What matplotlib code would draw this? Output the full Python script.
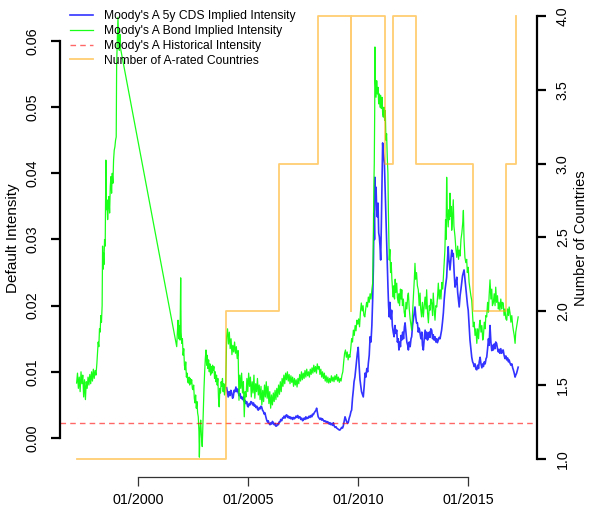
import matplotlib
matplotlib.use("Agg")
import matplotlib.pyplot as plt

plt.rcParams['font.family'] = ['Liberation Sans', 'DejaVu Sans']

# Moody's A bond implied intensity: (decimal year, intensity)
bond_pts = [
    (1997.21, .0083), (1997.25, .0098), (1997.29, .0075), (1997.33, .0092), (1997.37, .0070),
    (1997.41, .0100), (1997.45, .0082), (1997.49, .0095), (1997.53, .0062), (1997.57, .0088),
    (1997.61, .0058), (1997.65, .0085), (1997.69, .0075), (1997.73, .0092), (1997.77, .0080),
    (1997.81, .0096), (1997.85, .0082), (1997.89, .0100), (1997.93, .0086), (1997.97, .0104),
    (1998.01, .0090), (1998.05, .0102), (1998.09, .0095), (1998.13, .0112), (1998.16, .0130),
    (1998.19, .0145), (1998.22, .0138), (1998.25, .0165), (1998.28, .0160), (1998.31, .0185),
    (1998.34, .0175), (1998.37, .0200), (1998.39, .0290), (1998.41, .0255), (1998.43, .0280),
    (1998.45, .0262), (1998.48, .0300), (1998.51, .0290), (1998.54, .0420), (1998.56, .0345),
    (1998.59, .0360), (1998.62, .0330), (1998.65, .0350), (1998.68, .0365), (1998.71, .0340),
    (1998.74, .0380), (1998.77, .0395), (1998.80, .0370), (1998.83, .0400), (1998.86, .0385),
    (1998.89, .0420), (1998.92, .0435), (1998.95, .0440), (1998.98, .0450), (1999.01, .0455),
    (1999.03, .0566), (1999.06, .0600), (1999.09, .0636), (1999.12, .0600), (1999.15, .0586),
    (1999.18, .0610), (1999.20, .0590),
    (2001.76, .0138), (2001.79, .0160), (2001.82, .0178), (2001.85, .0150), (2001.88, .0170),
    (2001.91, .0148), (2001.94, .0242), (2001.96, .0160), (2001.99, .0143), (2002.02, .0150),
    (2002.05, .0125), (2002.08, .0135), (2002.11, .0110), (2002.14, .0103), (2002.17, .0115),
    (2002.20, .0092), (2002.23, .0098), (2002.26, .0085), (2002.29, .0083), (2002.32, .0092),
    (2002.35, .0080), (2002.38, .0090), (2002.41, .0082), (2002.44, .0088), (2002.47, .0075),
    (2002.50, .0073), (2002.53, .0080), (2002.56, .0060), (2002.59, .0053), (2002.62, .0065),
    (2002.65, .0045), (2002.68, .0055), (2002.71, .0038), (2002.74, .0032), (2002.77, .0010),
    (2002.79, -.0029), (2002.82, .0015), (2002.85, .0027), (2002.88, .0005), (2002.92, -.0013),
    (2002.95, .0020), (2002.97, .0042), (2003.00, .0075), (2003.03, .0100), (2003.06, .0120),
    (2003.09, .0133), (2003.12, .0110), (2003.15, .0125), (2003.18, .0105), (2003.21, .0118),
    (2003.24, .0100), (2003.27, .0112), (2003.30, .0095), (2003.33, .0108), (2003.36, .0098),
    (2003.39, .0110), (2003.42, .0102), (2003.45, .0108), (2003.48, .0090), (2003.51, .0100),
    (2003.54, .0085), (2003.57, .0095), (2003.60, .0080), (2003.63, .0090), (2003.66, .0060),
    (2003.69, .0047), (2003.72, .0075), (2003.75, .0068), (2003.78, .0085), (2003.81, .0078),
    (2003.84, .0090), (2003.87, .0070), (2003.90, .0082), (2003.93, .0065), (2003.96, .0075),
    (2003.99, .0085), (2004.03, .0153), (2004.07, .0165), (2004.11, .0142), (2004.15, .0160),
    (2004.19, .0135), (2004.23, .0150), (2004.27, .0126), (2004.31, .0140), (2004.35, .0130),
    (2004.39, .0145), (2004.43, .0128), (2004.47, .0138), (2004.51, .0120), (2004.55, .0132),
    (2004.59, .0057), (2004.63, .0095), (2004.67, .0075), (2004.71, .0098), (2004.75, .0068),
    (2004.79, .0085), (2004.83, .0032), (2004.87, .0070), (2004.91, .0062), (2004.95, .0090),
    (2004.99, .0070), (2005.03, .0098), (2005.07, .0078), (2005.11, .0092), (2005.15, .0062),
    (2005.19, .0085), (2005.23, .0068), (2005.27, .0095), (2005.31, .0060), (2005.35, .0082),
    (2005.39, .0070), (2005.43, .0090), (2005.47, .0065), (2005.51, .0080), (2005.55, .0058),
    (2005.59, .0078), (2005.63, .0050), (2005.67, .0072), (2005.71, .0055), (2005.75, .0080),
    (2005.79, .0062), (2005.83, .0085), (2005.87, .0060), (2005.91, .0078), (2005.95, .0052),
    (2005.99, .0070), (2006.03, .0045), (2006.07, .0065), (2006.11, .0050), (2006.15, .0068),
    (2006.19, .0055), (2006.23, .0072), (2006.27, .0058), (2006.31, .0075), (2006.35, .0062),
    (2006.39, .0080), (2006.43, .0066), (2006.47, .0085), (2006.51, .0070), (2006.55, .0090),
    (2006.59, .0078), (2006.63, .0095), (2006.67, .0082), (2006.71, .0098), (2006.75, .0088),
    (2006.79, .0100), (2006.83, .0086), (2006.87, .0096), (2006.91, .0082), (2006.95, .0094),
    (2006.99, .0084), (2007.03, .0092), (2007.07, .0078), (2007.11, .0090), (2007.15, .0080),
    (2007.19, .0088), (2007.23, .0077), (2007.27, .0090), (2007.31, .0082), (2007.35, .0096),
    (2007.39, .0086), (2007.43, .0100), (2007.47, .0088), (2007.51, .0098), (2007.55, .0090),
    (2007.59, .0102), (2007.63, .0092), (2007.67, .0104), (2007.71, .0094), (2007.75, .0100),
    (2007.79, .0092), (2007.83, .0104), (2007.87, .0096), (2007.91, .0106), (2007.95, .0098),
    (2007.99, .0110), (2008.03, .0100), (2008.07, .0108), (2008.11, .0098), (2008.15, .0112),
    (2008.19, .0104), (2008.23, .0108), (2008.27, .0096), (2008.31, .0104), (2008.35, .0092),
    (2008.39, .0100), (2008.43, .0090), (2008.47, .0098), (2008.51, .0086), (2008.55, .0094),
    (2008.59, .0084), (2008.63, .0092), (2008.67, .0083), (2008.71, .0090), (2008.75, .0084),
    (2008.79, .0094), (2008.83, .0086), (2008.87, .0092), (2008.91, .0085), (2008.95, .0094),
    (2008.99, .0088), (2009.03, .0096), (2009.07, .0086), (2009.11, .0092), (2009.15, .0084),
    (2009.19, .0090), (2009.23, .0086), (2009.27, .0095), (2009.31, .0100), (2009.35, .0115),
    (2009.39, .0128), (2009.43, .0133), (2009.47, .0122), (2009.51, .0130), (2009.55, .0118),
    (2009.59, .0126), (2009.63, .0122), (2009.67, .0135), (2009.71, .0150), (2009.75, .0145),
    (2009.79, .0163), (2009.83, .0155), (2009.87, .0170), (2009.91, .0162), (2009.95, .0178),
    (2009.99, .0172), (2010.03, .0180), (2010.07, .0168), (2010.11, .0190), (2010.15, .0204),
    (2010.19, .0192), (2010.23, .0200), (2010.27, .0185), (2010.31, .0183), (2010.35, .0195),
    (2010.39, .0205), (2010.43, .0198), (2010.47, .0213), (2010.51, .0205), (2010.55, .0218),
    (2010.59, .0210), (2010.63, .0224), (2010.67, .0235), (2010.70, .0314), (2010.72, .0380),
    (2010.74, .0415), (2010.76, .0500), (2010.77, .0591), (2010.79, .0540), (2010.82, .0515),
    (2010.85, .0540), (2010.88, .0520), (2010.91, .0530), (2010.94, .0505), (2010.97, .0520),
    (2011.00, .0500), (2011.03, .0518), (2011.06, .0498), (2011.09, .0515), (2011.12, .0490),
    (2011.15, .0485), (2011.18, .0500), (2011.21, .0480), (2011.24, .0495), (2011.27, .0450),
    (2011.30, .0460), (2011.33, .0424), (2011.36, .0400), (2011.38, .0344), (2011.40, .0310),
    (2011.42, .0269), (2011.45, .0285), (2011.48, .0250), (2011.51, .0265), (2011.54, .0240),
    (2011.57, .0225), (2011.60, .0213), (2011.63, .0230), (2011.66, .0210), (2011.69, .0240),
    (2011.72, .0220), (2011.76, .0234), (2011.79, .0212), (2011.83, .0204), (2011.86, .0218),
    (2011.89, .0200), (2011.93, .0225), (2011.96, .0210), (2011.99, .0224), (2012.02, .0200),
    (2012.06, .0210), (2012.10, .0190), (2012.14, .0183), (2012.18, .0205), (2012.22, .0195),
    (2012.26, .0215), (2012.29, .0219), (2012.33, .0195), (2012.37, .0180), (2012.41, .0170),
    (2012.44, .0163), (2012.48, .0190), (2012.52, .0215), (2012.56, .0240), (2012.59, .0264),
    (2012.62, .0240), (2012.66, .0250), (2012.70, .0230), (2012.74, .0224), (2012.78, .0200),
    (2012.82, .0219), (2012.85, .0195), (2012.89, .0183), (2012.93, .0205), (2012.97, .0183),
    (2013.01, .0200), (2013.05, .0213), (2013.09, .0195), (2013.12, .0224), (2013.16, .0190),
    (2013.20, .0174), (2013.24, .0200), (2013.27, .0193), (2013.31, .0210), (2013.35, .0204),
    (2013.39, .0185), (2013.42, .0219), (2013.46, .0195), (2013.50, .0178), (2013.54, .0200),
    (2013.58, .0198), (2013.62, .0215), (2013.65, .0234), (2013.69, .0210), (2013.73, .0224),
    (2013.77, .0210), (2013.81, .0235), (2013.85, .0225), (2013.88, .0243), (2013.92, .0265),
    (2013.95, .0284), (2013.98, .0330), (2014.00, .0300), (2014.03, .0394), (2014.06, .0340),
    (2014.10, .0319), (2014.13, .0345), (2014.16, .0330), (2014.18, .0370), (2014.21, .0335),
    (2014.24, .0350), (2014.26, .0314), (2014.29, .0330), (2014.33, .0360), (2014.36, .0320),
    (2014.39, .0310), (2014.41, .0304), (2014.45, .0285), (2014.49, .0273), (2014.53, .0290),
    (2014.57, .0270), (2014.60, .0284), (2014.64, .0275), (2014.68, .0300), (2014.72, .0310),
    (2014.76, .0325), (2014.79, .0344), (2014.82, .0300), (2014.86, .0273), (2014.90, .0265),
    (2014.94, .0270), (2014.97, .0250), (2015.01, .0258), (2015.05, .0235), (2015.09, .0225),
    (2015.13, .0215), (2015.17, .0208), (2015.21, .0185), (2015.24, .0168), (2015.28, .0175),
    (2015.32, .0155), (2015.36, .0165), (2015.40, .0143), (2015.44, .0165), (2015.48, .0150),
    (2015.52, .0172), (2015.55, .0178), (2015.59, .0160), (2015.63, .0170), (2015.67, .0148),
    (2015.70, .0153), (2015.74, .0175), (2015.78, .0165), (2015.81, .0185), (2015.85, .0183),
    (2015.89, .0205), (2015.93, .0190), (2015.96, .0215), (2016.00, .0239), (2016.04, .0210),
    (2016.08, .0225), (2016.11, .0200), (2016.15, .0204), (2016.19, .0218), (2016.23, .0200),
    (2016.26, .0228), (2016.30, .0205), (2016.34, .0215), (2016.38, .0195), (2016.41, .0205),
    (2016.45, .0193), (2016.49, .0210), (2016.53, .0195), (2016.56, .0205), (2016.60, .0204),
    (2016.64, .0185), (2016.68, .0195), (2016.72, .0180), (2016.76, .0178), (2016.80, .0195),
    (2016.84, .0185), (2016.87, .0198), (2016.91, .0189), (2016.95, .0175), (2016.99, .0185),
    (2017.03, .0170), (2017.06, .0163), (2017.10, .0155), (2017.14, .0143), (2017.17, .0160),
    (2017.21, .0168), (2017.24, .0175), (2017.28, .0183),
]

# Moody's A 5y CDS implied intensity
cds_pts = [
    (2004.03, .0076), (2004.07, .0068), (2004.10, .0062), (2004.14, .0070), (2004.18, .0064),
    (2004.22, .0072), (2004.26, .0068), (2004.30, .0060), (2004.33, .0062), (2004.37, .0072),
    (2004.41, .0070), (2004.45, .0077), (2004.49, .0070), (2004.53, .0074), (2004.56, .0068),
    (2004.60, .0064), (2004.64, .0067), (2004.68, .0060), (2004.71, .0062), (2004.75, .0058),
    (2004.79, .0062), (2004.83, .0055), (2004.86, .0057), (2004.90, .0052), (2004.94, .0055),
    (2004.98, .0048), (2005.01, .0047), (2005.05, .0052), (2005.09, .0050), (2005.13, .0055),
    (2005.17, .0054), (2005.21, .0050), (2005.25, .0053), (2005.29, .0048), (2005.32, .0050),
    (2005.36, .0046), (2005.40, .0048), (2005.44, .0043), (2005.47, .0042), (2005.51, .0046),
    (2005.55, .0044), (2005.59, .0048), (2005.62, .0047), (2005.66, .0042), (2005.70, .0040),
    (2005.74, .0036), (2005.77, .0038), (2005.81, .0032), (2005.85, .0027), (2005.89, .0024),
    (2005.92, .0026), (2005.96, .0022), (2006.00, .0020), (2006.04, .0023), (2006.08, .0021),
    (2006.11, .0025), (2006.15, .0023), (2006.19, .0020), (2006.23, .0022), (2006.26, .0018),
    (2006.30, .0018), (2006.34, .0021), (2006.38, .0020), (2006.41, .0024), (2006.45, .0024),
    (2006.49, .0028), (2006.53, .0026), (2006.57, .0030), (2006.60, .0030), (2006.64, .0033),
    (2006.68, .0030), (2006.72, .0034), (2006.76, .0035), (2006.80, .0031), (2006.84, .0033),
    (2006.87, .0030), (2006.91, .0032), (2006.95, .0029), (2006.99, .0031), (2007.03, .0028),
    (2007.07, .0031), (2007.11, .0029), (2007.14, .0030), (2007.18, .0033), (2007.22, .0031),
    (2007.26, .0034), (2007.30, .0030), (2007.33, .0032), (2007.36, .0032), (2007.40, .0028),
    (2007.44, .0030), (2007.48, .0026), (2007.51, .0027), (2007.55, .0030), (2007.59, .0028),
    (2007.63, .0032), (2007.67, .0029), (2007.71, .0031), (2007.74, .0030), (2007.78, .0033),
    (2007.82, .0031), (2007.86, .0034), (2007.90, .0032), (2007.93, .0036), (2007.97, .0035),
    (2008.01, .0038), (2008.05, .0040), (2008.09, .0042), (2008.12, .0045), (2008.16, .0038),
    (2008.19, .0032), (2008.23, .0030), (2008.27, .0028), (2008.31, .0030), (2008.35, .0027),
    (2008.38, .0029), (2008.42, .0027), (2008.46, .0025), (2008.50, .0026), (2008.54, .0024),
    (2008.58, .0025), (2008.62, .0023), (2008.65, .0024), (2008.69, .0021), (2008.73, .0023),
    (2008.77, .0020), (2008.81, .0022), (2008.85, .0019), (2008.88, .0023), (2008.92, .0018),
    (2008.96, .0016), (2009.00, .0017), (2009.03, .0015), (2009.07, .0014), (2009.11, .0013),
    (2009.15, .0012), (2009.18, .0012), (2009.22, .0014), (2009.26, .0016), (2009.30, .0015),
    (2009.33, .0018), (2009.37, .0025), (2009.41, .0032), (2009.45, .0028), (2009.49, .0024),
    (2009.53, .0022), (2009.56, .0024), (2009.60, .0030), (2009.64, .0034), (2009.68, .0040),
    (2009.71, .0042), (2009.75, .0060), (2009.79, .0073), (2009.82, .0085), (2009.86, .0092),
    (2009.90, .0105), (2009.94, .0118), (2009.97, .0128), (2010.01, .0137), (2010.05, .0110),
    (2010.09, .0088), (2010.12, .0080), (2010.16, .0070), (2010.20, .0066), (2010.24, .0062),
    (2010.28, .0078), (2010.32, .0098), (2010.36, .0092), (2010.40, .0105), (2010.44, .0100),
    (2010.47, .0113), (2010.51, .0125), (2010.55, .0153), (2010.59, .0145), (2010.63, .0170),
    (2010.67, .0213), (2010.70, .0260), (2010.73, .0340), (2010.75, .0300), (2010.77, .0394),
    (2010.80, .0360), (2010.82, .0379), (2010.85, .0345), (2010.88, .0334), (2010.91, .0355),
    (2010.94, .0310), (2010.97, .0304), (2011.00, .0290), (2011.03, .0269), (2011.06, .0320),
    (2011.09, .0380), (2011.12, .0446), (2011.15, .0430), (2011.18, .0420), (2011.20, .0415),
    (2011.23, .0380), (2011.27, .0334), (2011.30, .0300), (2011.33, .0264), (2011.36, .0230),
    (2011.39, .0200), (2011.42, .0183), (2011.45, .0205), (2011.49, .0180), (2011.53, .0193),
    (2011.56, .0170), (2011.60, .0160), (2011.64, .0153), (2011.68, .0170), (2011.72, .0158),
    (2011.76, .0163), (2011.79, .0145), (2011.83, .0150), (2011.86, .0133), (2011.90, .0145),
    (2011.93, .0138), (2011.96, .0155), (2011.99, .0148), (2012.03, .0160), (2012.07, .0150),
    (2012.11, .0168), (2012.14, .0174), (2012.18, .0160), (2012.22, .0145), (2012.26, .0140),
    (2012.29, .0133), (2012.33, .0145), (2012.37, .0138), (2012.41, .0150), (2012.44, .0153),
    (2012.48, .0170), (2012.52, .0180), (2012.56, .0190), (2012.59, .0198), (2012.63, .0182),
    (2012.66, .0174), (2012.70, .0174), (2012.74, .0160), (2012.78, .0166), (2012.82, .0158),
    (2012.86, .0150), (2012.90, .0160), (2012.93, .0140), (2012.97, .0133), (2013.01, .0150),
    (2013.05, .0163), (2013.09, .0150), (2013.12, .0160), (2013.16, .0148), (2013.20, .0153),
    (2013.24, .0160), (2013.27, .0152), (2013.31, .0165), (2013.35, .0163), (2013.39, .0150),
    (2013.42, .0156), (2013.46, .0148), (2013.50, .0153), (2013.54, .0145), (2013.58, .0150),
    (2013.61, .0144), (2013.65, .0148), (2013.69, .0152), (2013.73, .0150), (2013.77, .0158),
    (2013.80, .0163), (2013.84, .0175), (2013.88, .0189), (2013.92, .0210), (2013.96, .0225),
    (2014.00, .0235), (2014.03, .0243), (2014.06, .0265), (2014.10, .0289), (2014.13, .0270),
    (2014.16, .0260), (2014.18, .0254), (2014.22, .0270), (2014.26, .0284), (2014.29, .0275),
    (2014.33, .0279), (2014.37, .0250), (2014.41, .0228), (2014.45, .0235), (2014.49, .0243),
    (2014.53, .0220), (2014.56, .0210), (2014.60, .0198), (2014.64, .0215), (2014.68, .0225),
    (2014.71, .0234), (2014.75, .0245), (2014.79, .0250), (2014.82, .0254), (2014.86, .0240),
    (2014.91, .0224), (2014.95, .0210), (2014.98, .0200), (2015.01, .0193), (2015.05, .0170),
    (2015.09, .0148), (2015.13, .0135), (2015.17, .0122), (2015.21, .0115), (2015.24, .0113),
    (2015.28, .0108), (2015.32, .0112), (2015.36, .0104), (2015.40, .0103), (2015.44, .0110),
    (2015.48, .0105), (2015.51, .0115), (2015.55, .0122), (2015.59, .0112), (2015.63, .0106),
    (2015.67, .0112), (2015.70, .0108), (2015.74, .0115), (2015.78, .0112), (2015.82, .0120),
    (2015.85, .0122), (2015.89, .0135), (2015.93, .0150), (2015.96, .0140), (2016.00, .0170),
    (2016.04, .0145), (2016.08, .0132), (2016.11, .0140), (2016.15, .0133), (2016.19, .0142),
    (2016.23, .0135), (2016.26, .0145), (2016.30, .0143), (2016.34, .0135), (2016.38, .0130),
    (2016.41, .0134), (2016.45, .0128), (2016.49, .0135), (2016.53, .0128), (2016.56, .0132),
    (2016.60, .0133), (2016.64, .0125), (2016.68, .0120), (2016.72, .0124), (2016.76, .0118),
    (2016.80, .0121), (2016.84, .0115), (2016.87, .0118), (2016.91, .0113), (2016.95, .0110),
    (2016.99, .0112), (2017.03, .0106), (2017.06, .0103), (2017.10, .0098), (2017.14, .0092),
    (2017.17, .0095), (2017.21, .0098), (2017.24, .0102), (2017.28, .0107),
]

# Moody's A historical default intensity
hist_intensity = 0.0023

# Number of A-rated countries (step changes)
count_t = [1997.23, 2004.00, 2006.41, 2008.18, 2009.68, 2009.70, 2011.23, 2011.59,
           2012.64, 2015.23, 2016.73, 2017.18]
count_n = [1, 2, 3, 4, 2, 4, 3, 4, 3, 2, 3, 4]

year_ticks = [2000, 2005, 2010, 2015]
year_labels = ['01/2000', '01/2005', '01/2010', '01/2015']
left_ticks = [0, 0.01, 0.02, 0.03, 0.04, 0.05, 0.06]
right_ticks = [1.0, 1.5, 2.0, 2.5, 3.0, 3.5, 4.0]

bond_t, bond_v = zip(*bond_pts)
cds_t, cds_v = zip(*cds_pts)

fig = plt.figure(figsize=(5.9, 5.17), dpi=100)
ax = fig.add_axes([60 / 590, 40 / 517, 477 / 590, 477 / 517])
ax2 = ax.twinx()

l_cds, = ax.plot(cds_t, cds_v, color='blue', lw=1.2, alpha=0.8)
l_bond, = ax.plot(bond_t, bond_v, color='#00ff00', lw=0.9, alpha=0.9)
l_hist = ax.axhline(hist_intensity, color='red', lw=1.0, alpha=0.6, dashes=(4, 3))
l_cnt, = ax2.plot(count_t, count_n, color='orange', lw=1.3, alpha=0.55,
                  drawstyle='steps-post')

ax.set_xlim(1996.455, 2018.136)
ax.set_ylim(-0.0059, 0.0662)
ax2.set_ylim(0.878, 4.108)

for s in ['top', 'right']:
    ax.spines[s].set_visible(False)
for s in ['top', 'left', 'bottom']:
    ax2.spines[s].set_visible(False)
ax.spines['left'].set_bounds(0, 0.06)
ax.spines['left'].set_linewidth(1.6)
ax.spines['bottom'].set_bounds(2000, 2015)
ax.spines['bottom'].set_linewidth(0.9)
ax.spines['bottom'].set_color('#333333')
ax2.spines['right'].set_bounds(1, 4)
ax2.spines['right'].set_linewidth(1.6)

ax.set_xticks(year_ticks)
ax.set_xticklabels(year_labels)
ax.set_yticks(left_ticks)
ax.set_yticklabels(['%.2f' % v for v in left_ticks], rotation=90, va='center')
ax2.set_yticks(right_ticks)
ax2.set_yticklabels(['%.1f' % v for v in right_ticks], rotation=90, va='center')

ax.tick_params(axis='x', length=6.5, width=0.9, pad=5, labelsize=10.3, color='#333333')
ax.tick_params(axis='y', length=6.5, width=1.6, pad=8, labelsize=10.3)
ax2.tick_params(axis='y', length=6.5, width=1.6, pad=7, labelsize=10.3)

fig.text(13 / 590, 1 - 238 / 517, 'Default Intensity', rotation=90,
         ha='center', va='center', fontsize=11)
fig.text(581 / 590, 1 - 238 / 517, 'Number of Countries', rotation=90,
         ha='center', va='center', fontsize=10.5)

fig.legend([l_cds, l_bond, l_hist, l_cnt],
           ["Moody's A 5y CDS Implied Intensity", "Moody's A Bond Implied Intensity",
            "Moody's A Historical Intensity", "Number of A-rated Countries"],
           loc='upper left', bbox_to_anchor=(70 / 590, 1 - 10 / 517),
           bbox_transform=fig.transFigure, frameon=False, fontsize=8.7,
           handlelength=1.9, handletextpad=0.95, labelspacing=0.24, borderpad=0,
           borderaxespad=0)

fig.savefig('out.png', dpi=100)
